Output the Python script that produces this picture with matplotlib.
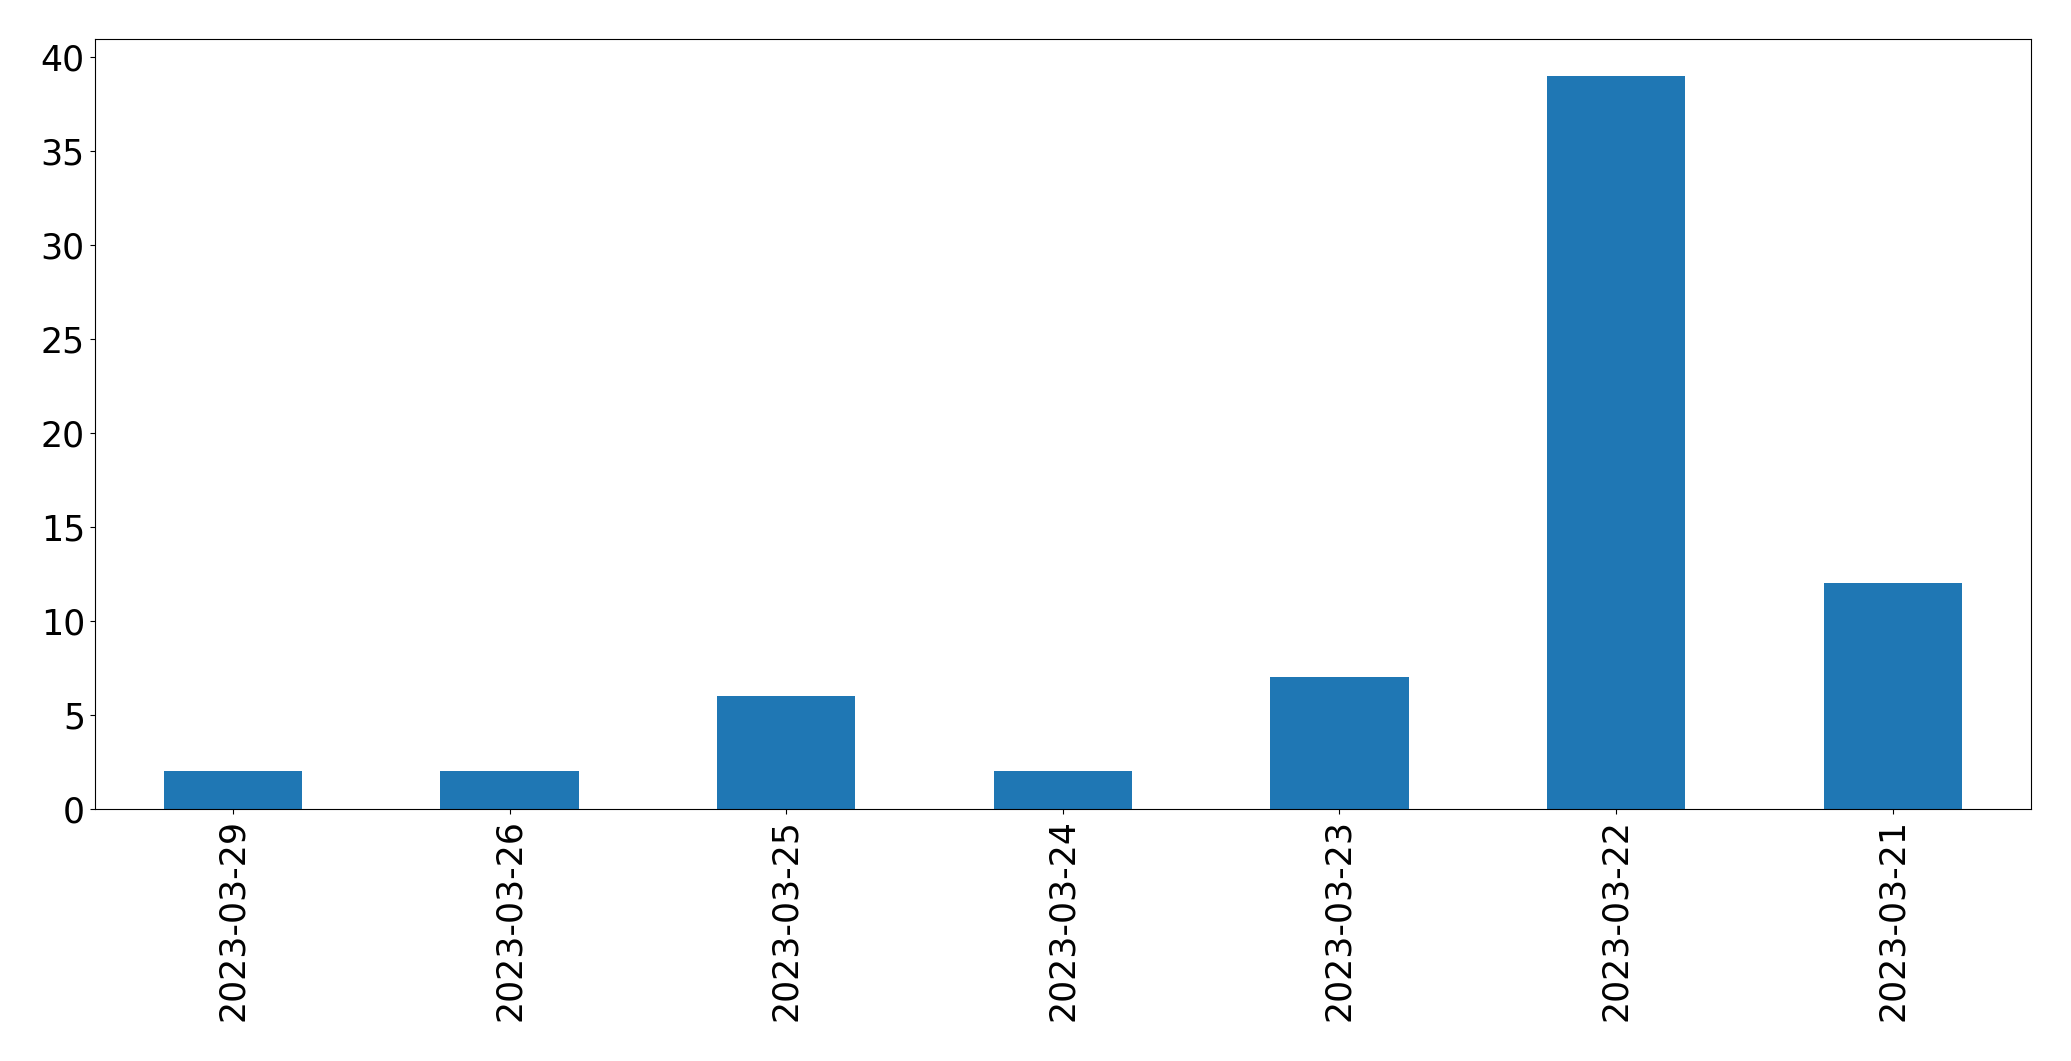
import pandas as pd
from matplotlib import pyplot as plt

dates = ['2023-03-29', '2023-03-26', '2023-03-25', '2023-03-24',
         '2023-03-23', '2023-03-22', '2023-03-21']
counts = [2, 2, 6, 2, 7, 39, 12]

series = pd.Series(counts, index=dates)

fig = plt.figure(figsize=(20.71, 10.61), dpi=100)
ax = fig.add_axes([0.0457, 0.2375, 0.935, 0.7255])
series.plot(kind='bar', ax=ax, color='#1f77b4', width=0.5)

ax.tick_params(axis='both', labelsize=25)
ax.set_yticks(range(0, 41, 5))

fig.savefig('out.png', dpi=100)
